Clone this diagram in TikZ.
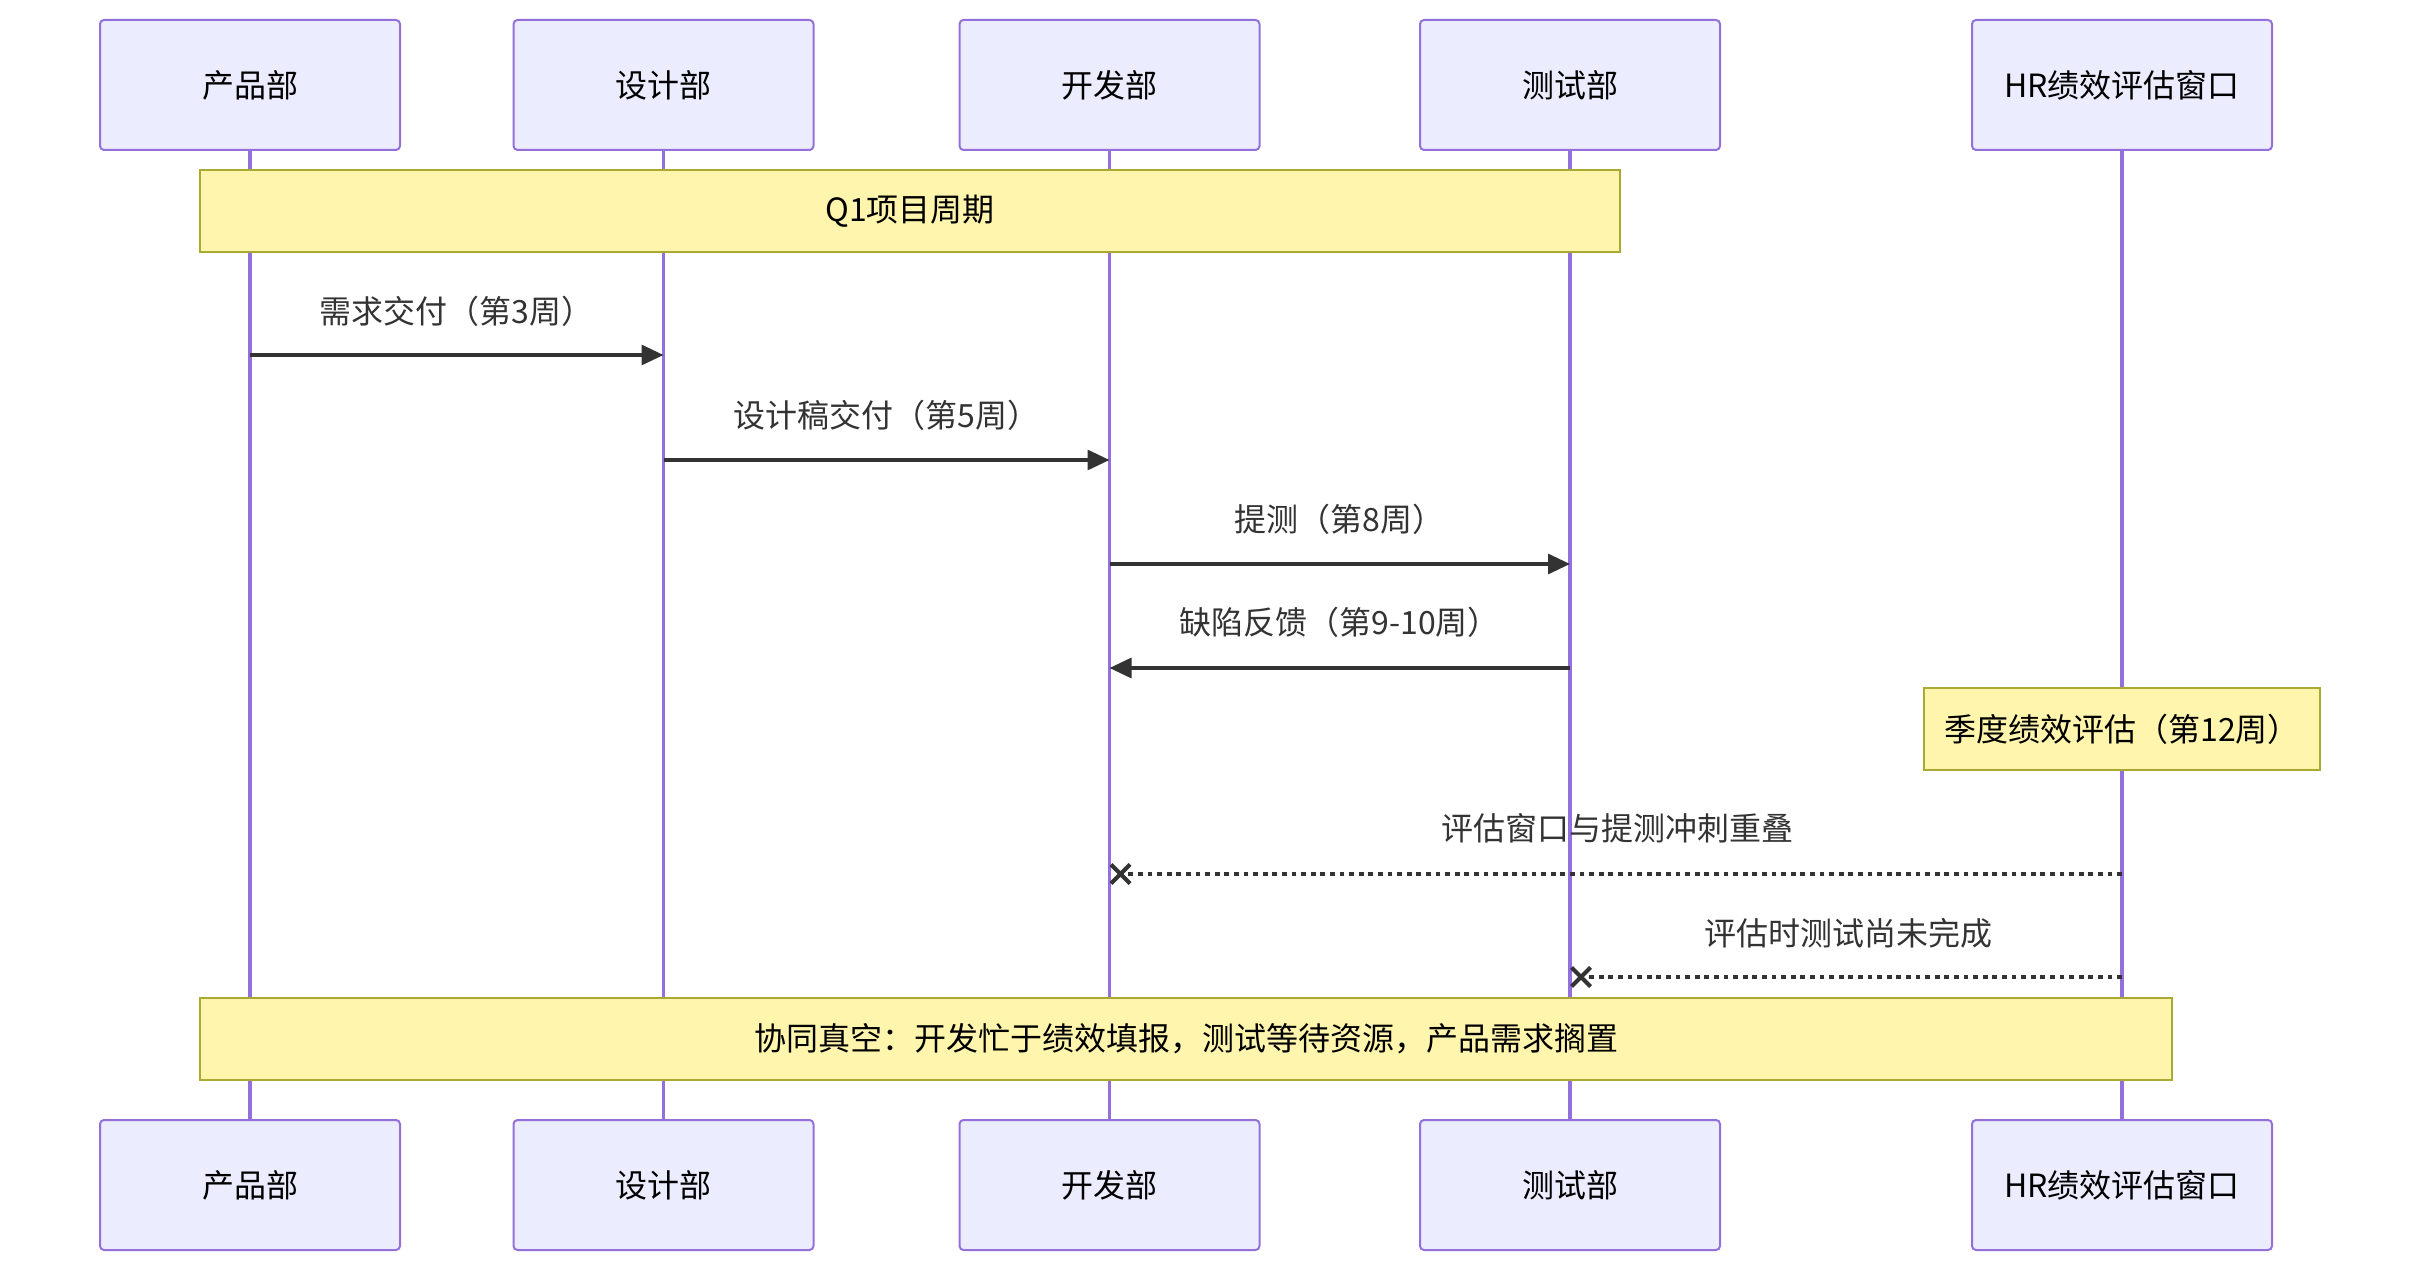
\documentclass[tikz,border=0pt]{standalone}
\usepackage{fontspec}
\setmainfont{Noto Sans CJK SC}
\usetikzlibrary{arrows.meta,shapes.misc}
\definecolor{actfill}{HTML}{ECECFF}
\definecolor{actline}{HTML}{9370DB}
\definecolor{notefill}{HTML}{FFF5AD}
\definecolor{noteline}{HTML}{AAAA33}
\definecolor{msgcol}{HTML}{333333}
\begin{document}
\begin{tikzpicture}[x=0.5pt,y=-0.5pt,
  actor/.style={draw=actline, fill=actfill, line width=1pt, rounded corners=2pt,
    minimum width=150pt, minimum height=65pt, inner sep=0pt, text=black,
    font=\fontsize{16}{19}\selectfont},
  life/.style={draw=actline, line width=1.7pt},
  notebox/.style={draw=noteline, fill=notefill, line width=1pt, minimum height=41pt,
    inner sep=0pt, text=black, font=\fontsize{16}{19}\selectfont},
  msgline/.style={draw=msgcol, line width=1.6pt},
  solidarrow/.style={msgline, -{Triangle[length=11pt,width=10pt]}},
  dotline/.style={msgline, dash pattern=on 2.4pt off 2.4pt},
  msglab/.style={text=msgcol, inner sep=0pt, font=\fontsize{16}{19}\selectfont},
  xmark/.style={draw=msgcol, cross out, line width=2pt, minimum size=7.5pt, inner sep=0pt}
]
\path[use as bounding box] (0,0) rectangle (2420,1272);

% participants (top)
\node[actor] (p1) at (250,85) {产品部};
\node[actor] (p2) at (663.5,85) {设计部};
\node[actor] (p3) at (1109.5,85) {开发部};
\node[actor] (p4) at (1570,85) {测试部};
\node[actor] (p5) at (2122,85) {HR绩效评估窗口};
% participants (bottom)
\node[actor] (q1) at (250,1185) {产品部};
\node[actor] (q2) at (663.5,1185) {设计部};
\node[actor] (q3) at (1109.5,1185) {开发部};
\node[actor] (q4) at (1570,1185) {测试部};
\node[actor] (q5) at (2122,1185) {HR绩效评估窗口};

% lifelines
\draw[life] (p1.south) -- (q1.north);
\draw[life] (p2.south) -- (q2.north);
\draw[life] (p3.south) -- (q3.north);
\draw[life] (p4.south) -- (q4.north);
\draw[life] (p5.south) -- (q5.north);

% notes
\node[notebox, minimum width=710pt] (n1) at (910,211) {Q1项目周期};
\node[notebox, minimum width=198pt] (n2) at (2122,729) {季度绩效评估（第12周）};
\node[notebox, minimum width=986pt] (n3) at (1186,1039) {协同真空：开发忙于绩效填报，测试等待资源，产品需求搁置};

% messages
\draw[solidarrow] (p1 |- 0,355) -- (p2 |- 0,355);
\node[msglab] (l1) at (456.75,311) {需求交付（第3周）};

\draw[solidarrow] (p2 |- 0,460) -- (p3 |- 0,460);
\node[msglab] (l2) at (886.5,415) {设计稿交付（第5周）};

\draw[solidarrow] (p3 |- 0,564) -- (p4 |- 0,564);
\node[msglab] (l3) at (1339.75,519) {提测（第8周）};

\draw[solidarrow] (p4 |- 0,668) -- (p3 |- 0,668);
\node[msglab] (l4) at (1339.75,622) {缺陷反馈（第9-10周）};

\coordinate (e5) at (1120.5,874);
\draw[dotline] (p5 |- e5) -- (e5);
\node[xmark] (x5) at (e5) {};
\node[msglab] (l5) at (1617,828) {评估窗口与提测冲刺重叠};

\coordinate (e6) at (1581,977);
\draw[dotline] (p5 |- e6) -- (e6);
\node[xmark] (x6) at (e6) {};
\node[msglab] (l6) at (1848,933) {评估时测试尚未完成};
\end{tikzpicture}
\end{document}
